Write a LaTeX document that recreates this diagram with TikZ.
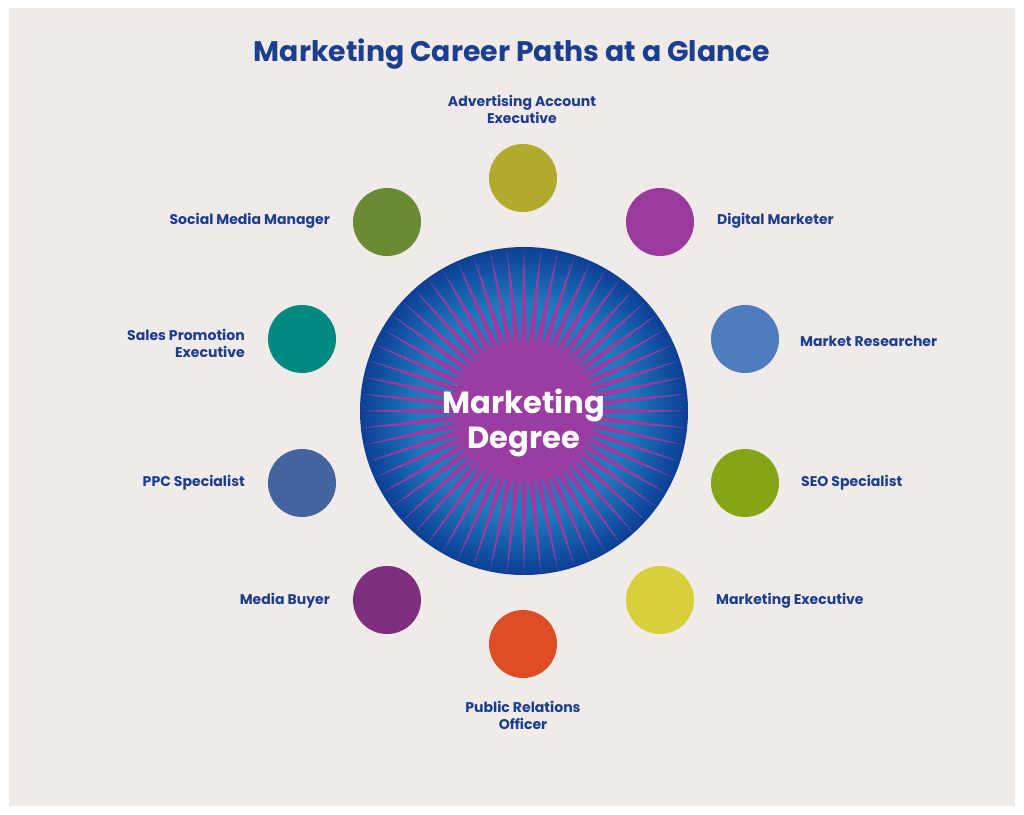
\documentclass[tikz,border=0pt]{standalone}
\usepackage{fontspec}
\setmainfont{Poppins}
\usetikzlibrary{calc}
\definecolor{bgpanel}{HTML}{F0EBE8}
\definecolor{txtnavy}{HTML}{1B3E8E}
\definecolor{cIn}{HTML}{1E7EBF}
\definecolor{cOut}{HTML}{0C4096}
\definecolor{rayp}{HTML}{9A3CA2}
\definecolor{cAdv}{HTML}{B2AA2E}
\definecolor{cDig}{HTML}{9B3A9E}
\definecolor{cRes}{HTML}{4F7BBF}
\definecolor{cSeo}{HTML}{83A516}
\definecolor{cMex}{HTML}{D7D03A}
\definecolor{cPro}{HTML}{DE4E26}
\definecolor{cBuy}{HTML}{7E2E7D}
\definecolor{cPpc}{HTML}{43649F}
\definecolor{cSal}{HTML}{00897F}
\definecolor{cSoc}{HTML}{6A8A33}
\tikzset{
  dot/.style={circle, minimum size=68bp, inner sep=0pt},
  lbl/.style={text=txtnavy, font=\fontsize{14.1}{17}\selectfont\bfseries, inner sep=0pt},
}
\begin{document}
\begin{tikzpicture}[x=1bp,y=-1bp]
\useasboundingbox (0,0) rectangle (1024,815);
\fill[white] (0,0) rectangle (1024,815);
\fill[bgpanel] (9,8) rectangle (1015,806);
\node[text=txtnavy, font=\fontsize{28.4}{32}\selectfont\bfseries] (title) at (512,54) {Marketing Career Paths at a Glance};
% central disc
\coordinate (C) at (524,411);
\foreach \i in {0,...,35}{
  \pgfmathsetmacro{\rr}{164-2*\i}
  \pgfmathtruncatemacro{\pp}{min(100,\i*100/30)}
  \fill[cIn!\pp!cOut] (C) circle (\rr);
}
\foreach \a in {0,6,...,354}{
  \fill[rayp] ($(C)+(\a:163)$) -- ($(C)+(\a+3.3:62)$) -- ($(C)+(\a-3.3:62)$) -- cycle;
}
\fill[rayp] (C) circle (70);
\node[circle, minimum size=328bp, inner sep=0pt] (deg) at (C) {};
\node[text=white, font=\fontsize{30.7}{36}\selectfont\bfseries, align=center] (degt) at (524,423) {Marketing\\Degree};
% outer dots
\node[dot, fill=cAdv] (adv) at (523,178) {};
\node[dot, fill=cDig] (dig) at (660,222) {};
\node[dot, fill=cRes] (res) at (745,339) {};
\node[dot, fill=cSeo] (seo) at (745,483) {};
\node[dot, fill=cMex] (mex) at (660,600) {};
\node[dot, fill=cPro] (pro) at (523,644) {};
\node[dot, fill=cBuy] (buy) at (387,600) {};
\node[dot, fill=cPpc] (ppc) at (302,483) {};
\node[dot, fill=cSal] (sal) at (302,339) {};
\node[dot, fill=cSoc] (soc) at (387,222) {};
% labels
\node[lbl, align=center] (ladv) at (522,109) {Advertising Account\\Executive};
\node[lbl, anchor=west] (ldig) at (717,221) {Digital Marketer};
\node[lbl, anchor=west] (lres) at (800,341) {Market Researcher};
\node[lbl, anchor=west] (lseo) at (801,483) {SEO Specialist};
\node[lbl, anchor=west] (lmex) at (716,601) {Marketing Executive};
\node[lbl, align=center] (lpro) at (523,715) {Public Relations\\Officer};
\node[lbl, anchor=east] (lbuy) at (330,601) {Media Buyer};
\node[lbl, anchor=east] (lppc) at (245,483) {PPC Specialist};
\node[lbl, anchor=east, align=right] (lsal) at (245,343) {Sales Promotion\\Executive};
\node[lbl, anchor=east] (lsoc) at (330,221) {Social Media Manager};
\end{tikzpicture}
\end{document}
